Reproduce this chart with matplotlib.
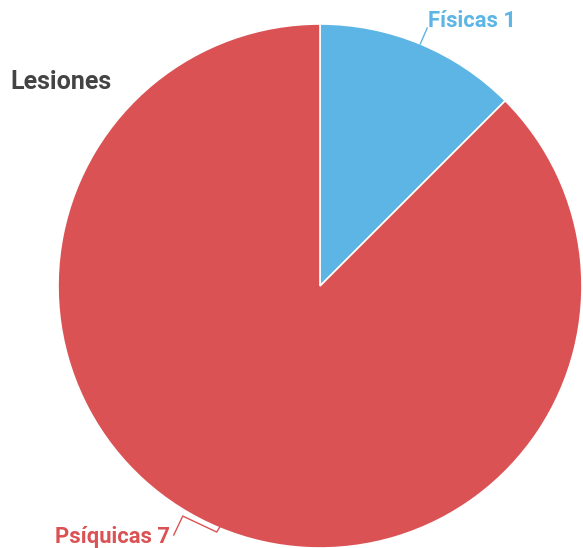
import numpy as np
import matplotlib.pyplot as plt

plt.rcParams['font.family'] = ['Roboto', 'DejaVu Sans']

categorias = ['Físicas', 'Psíquicas']
valores = [1, 7]
colores = ['#5db5e5', '#db5254']

fig = plt.figure(figsize=(5.83, 5.48), dpi=100)
ax = fig.add_axes([0, 0, 1, 1])

cx, cy, r = 320, 262, 262
ax.pie(valores, colors=colores, startangle=90, counterclock=False,
       center=(cx, cy), radius=r, frame=True,
       wedgeprops=dict(edgecolor='white', linewidth=1.2))
ax.set_xlim(0, 583)
ax.set_ylim(0, 548)
ax.set_aspect('equal')
ax.axis('off')

# etiquetas con linea guia
total = sum(valores)
acum = 0
for cat, v, c in zip(categorias, valores, colores):
    medio = (acum + v / 2) / total * 2 * np.pi
    acum += v
    px, py = cx + r * np.sin(medio), cy + r * np.cos(medio)
    if np.sin(medio) >= 0:
        ax.plot([px, px + 7], [py, py + 16], color=c, lw=1)
        ax.text(px + 8, 521, f'{cat} {v}', color=c, fontsize=15.8,
                fontweight='bold', ha='left', va='baseline')
    else:
        xs = [px, px - 3, px - 37, px - 46]
        ys = [py + 1, py - 4, py + 12, py - 7]
        ax.plot(xs, ys, color=c, lw=1)
        ax.text(px - 50, 5, f'{cat} {v}', color=c, fontsize=15.8,
                fontweight='bold', ha='right', va='baseline')

fig.text(10 / 583, 459 / 548, 'Lesiones', color='#444444', fontsize=18,
         fontweight='bold', ha='left', va='baseline')

fig.savefig('out.png', dpi=100)
